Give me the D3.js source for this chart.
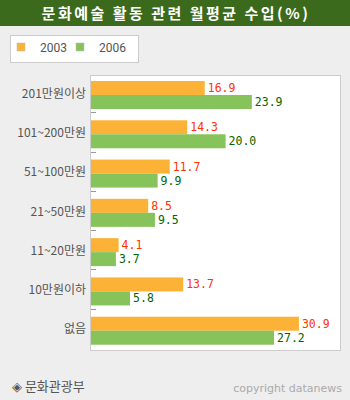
<!DOCTYPE html>
<html>
<head>
<meta charset="utf-8">
<script src="https://cdn.jsdelivr.net/npm/d3@7"></script>
<style>
  body { margin: 0; background: #eeeeee; }
  svg { display: block; }
</style>
</head>
<body>
<div id="chart"></div>
<script>
// chart data
const categories = ['201만원이상', '101~200만원', '51~100만원', '21~50만원', '11~20만원', '10만원이하', '없음'];
const series = ['2003', '2006'];
const values2003 = [16.9, 14.3, 11.7, 8.5, 4.1, 13.7, 30.9];
const values2006 = [23.9, 20.0, 9.9, 9.5, 3.7, 5.8, 27.2];

const barColors = ['#fbb237', '#86c35a'];
const labelColors = ['#ff3300', '#006600'];

const W = 350, H = 400;
const svg = d3.select('#chart').append('svg')
  .attr('width', W)
  .attr('height', H);

svg.append('rect').attr('width', W).attr('height', H).attr('fill', '#eeeeee');

// title bar
svg.append('rect').attr('x', 0).attr('y', 0).attr('width', W).attr('height', 26).attr('fill', '#3b6a1d');
svg.append('text')
  .attr('x', W / 2 + 1).attr('y', 19)
  .attr('text-anchor', 'middle')
  .attr('fill', '#fff')
  .attr('font-family', '"Noto Sans CJK KR", sans-serif')
  .attr('font-weight', 'bold')
  .attr('font-size', 15)
  .attr('letter-spacing', 2.5)
  .text('문화예술 활동 관련 월평균 수입(%)');

// legend
const legend = svg.append('g');
legend.append('rect')
  .attr('x', 10.5).attr('y', 35.5).attr('width', 128).attr('height', 27)
  .attr('fill', '#fff').attr('stroke', '#cccccc');
series.forEach((s, i) => {
  const lx = 17 + i * 59;
  legend.append('rect')
    .attr('x', lx).attr('y', 43).attr('width', 8).attr('height', 8)
    .attr('fill', barColors[i]).attr('stroke', '#bbb').attr('stroke-width', 0.5);
  legend.append('text')
    .attr('x', lx + 23).attr('y', 52)
    .attr('fill', '#555')
    .attr('font-family', 'Roboto, sans-serif')
    .attr('font-size', 12)
    .text(s);
});

// plot area
const plot = { left: 90, right: 340, top: 75, bottom: 350 };
svg.append('rect')
  .attr('x', plot.left + 0.5).attr('y', plot.top + 0.5)
  .attr('width', plot.right - plot.left).attr('height', plot.bottom - plot.top)
  .attr('fill', '#fff').attr('stroke', '#cccccc');

const x = d3.scaleLinear().domain([0, 37]).range([plot.left + 1, plot.right]);
const y = d3.scaleBand().domain(categories).range([plot.top, plot.bottom]);
const inner = d3.scaleBand().domain(series).range([6, 34]);

// group separator ticks
svg.append('g')
  .selectAll('line')
  .data(categories.slice(1))
  .join('line')
  .attr('x1', plot.left + 1).attr('x2', plot.left + 6)
  .attr('y1', d => Math.round(y(d)) - 1.5).attr('y2', d => Math.round(y(d)) - 1.5)
  .attr('stroke', '#999');

const rows = categories.map((c, i) => ({ cat: c, vals: [values2003[i], values2006[i]] }));
const cells = rows.flatMap(r => r.vals.map((v, j) => ({ cat: r.cat, s: series[j], j, v })));

svg.append('g')
  .selectAll('rect')
  .data(cells)
  .join('rect')
  .attr('x', x(0))
  .attr('y', d => y(d.cat) + inner(d.s))
  .attr('width', d => x(d.v) - x(0))
  .attr('height', inner.bandwidth())
  .attr('fill', d => barColors[d.j]);

svg.append('g')
  .selectAll('text')
  .data(cells)
  .join('text')
  .attr('x', d => x(d.v) + 3)
  .attr('y', d => y(d.cat) + inner(d.s) + inner.bandwidth() / 2 + 4)
  .attr('fill', d => labelColors[d.j])
  .attr('font-family', '"DejaVu Sans Mono", monospace')
  .attr('font-size', 11.5)
  .text(d => d.v.toFixed(1));

// category labels
svg.append('g')
  .selectAll('text')
  .data(categories)
  .join('text')
  .attr('x', 86)
  .attr('y', d => y(d) + y.bandwidth() / 2 + 3)
  .attr('text-anchor', 'end')
  .attr('fill', '#555')
  .attr('font-family', '"Noto Sans CJK KR", sans-serif')
  .attr('font-size', 12)
  .text(d => d);

// footer
svg.append('text')
  .attr('x', 12).attr('y', 391)
  .attr('fill', '#555')
  .attr('font-family', '"Noto Sans CJK KR", sans-serif')
  .attr('font-size', 13)
  .text('◈ 문화관광부');
svg.append('text')
  .attr('x', 342).attr('y', 392)
  .attr('text-anchor', 'end')
  .attr('fill', '#aaa')
  .attr('font-family', 'Verdana, "DejaVu Sans", sans-serif')
  .attr('font-size', 11)
  .text('copyright datanews');
</script>
</body>
</html>
